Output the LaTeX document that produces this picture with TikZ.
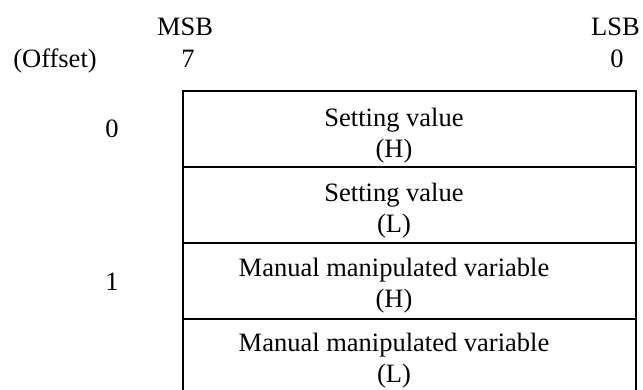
\documentclass[tikz,border=0pt]{standalone}
\usepackage{fontspec}
\setmainfont{Liberation Serif}
\begin{document}
\begin{tikzpicture}[x=1pt,y=1pt,
  lbl/.style={font=\fontsize{26.5}{31}\selectfont, inner sep=0pt, anchor=base},
  cell/.style={draw, line width=1.8pt, minimum width=453pt, minimum height=76pt, inner sep=0pt},
  celltext/.style={font=\fontsize{26.5}{31}\selectfont, inner sep=0pt, align=center, anchor=base}]
\useasboundingbox (0,0) rectangle (643,390);
% header
\node[lbl] (msb) at (185,354) {MSB};
\node[lbl] (lsb) at (615.5,354) {LSB};
\node[lbl] (offs) at (55,322) {(Offset)};
\node[lbl] (b7) at (188,322) {7};
\node[lbl] (b0) at (617,322) {0};
% offsets
\node[lbl] (o0) at (112,252.5) {0};
\node[lbl] (o1) at (112,99.5) {1};
% register cells
\node[cell] (c1) at (409.5,261) {};
\node[cell] (c2) at (409.5,185) {};
\node[cell] (c3) at (409.5,109) {};
\node[cell] (c4) at (409.5,33) {};
% cell contents (base anchor sits on the second line)
\node[celltext] (t1) at (394,232) {Setting value\\(H)};
\node[celltext] (t2) at (394,157) {Setting value\\(L)};
\node[celltext] (t3) at (394,82) {Manual manipulated variable\\(H)};
\node[celltext] (t4) at (394,7) {Manual manipulated variable\\(L)};
\end{tikzpicture}
\end{document}
